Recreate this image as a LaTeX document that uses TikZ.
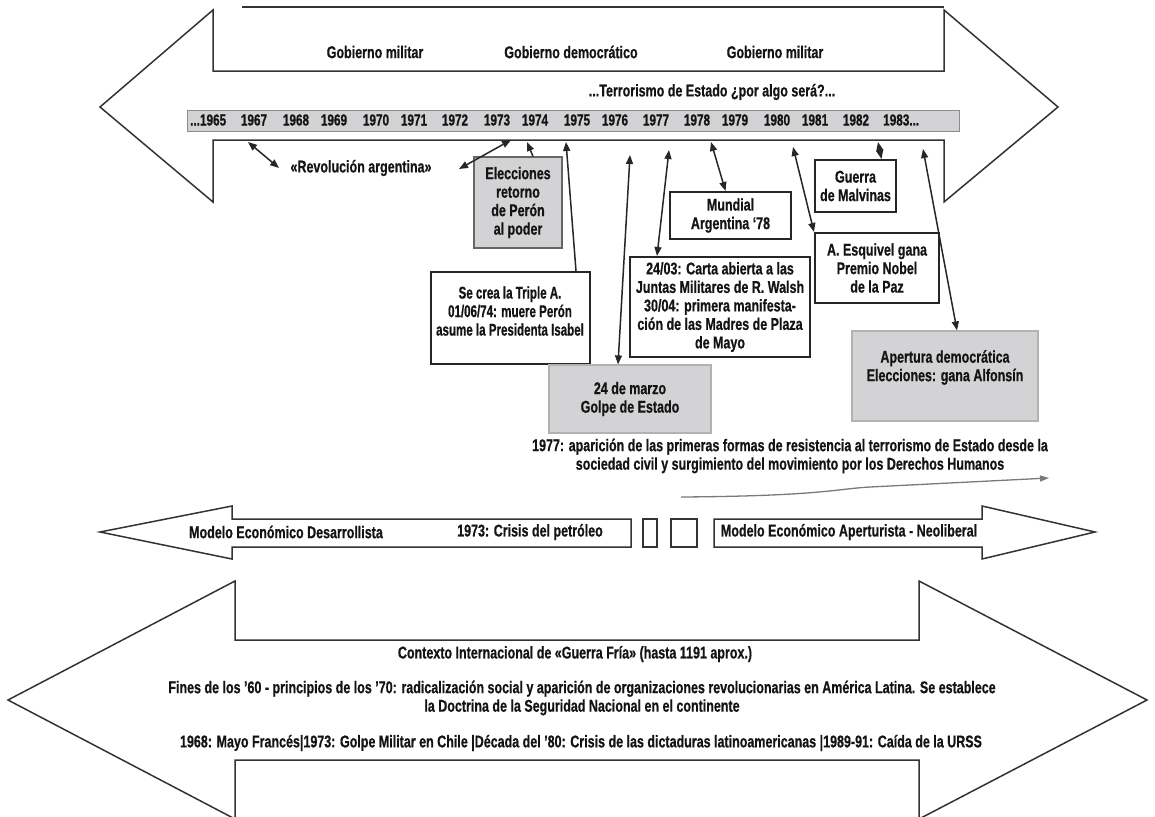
\documentclass[tikz,border=0pt]{standalone}
\usepackage{fontspec}
\setmainfont{Liberation Sans}[FakeStretch=0.735,BoldFeatures={FakeBold=0.6}]
\newfontfamily\narrowfont{Liberation Sans}[FakeStretch=0.68,BoldFeatures={FakeBold=0.6}]
\usetikzlibrary{arrows.meta}
\definecolor{boxgray}{HTML}{D3D3D5}
\definecolor{bargray}{HTML}{D2D2D4}
\definecolor{ink}{HTML}{141414}
\definecolor{curvegray}{HTML}{7A7A7A}
\begin{document}
\begin{tikzpicture}[x=1pt,y=-1pt,
  every node/.style={font=\bfseries\fontsize{17}{18.5}\selectfont, text=ink, inner sep=0pt, align=center},
  yr/.style={font=\bfseries\fontsize{16}{18}\selectfont},
  narrowtxt/.style={font=\narrowfont\bfseries\fontsize{17}{18.5}\selectfont},
  outline/.style={draw=black!80, line width=1.5pt, line join=miter},
  ebox/.style={draw=black!85, line width=2pt, fill=white},
  gbox/.style={draw=black!30, line width=1.2pt, fill=boxgray},
  conn/.style={draw=black!85, line width=1.5pt, {Triangle[length=9pt,width=7pt]}-{Triangle[length=9pt,width=7pt]}},
  conn1/.style={draw=black!85, line width=1.5pt, -{Triangle[length=9pt,width=7pt]}},
]
\useasboundingbox (0,0) rectangle (1155,816);

% ---------- top arrow ----------
\draw[outline] (100,107) -- (213,10) -- (213,71) -- (944,71) -- (944,10) -- (1058,107)
  -- (944,202) -- (944,140) -- (213,140) -- (213,202) -- cycle;
\draw[outline] (242,7) -- (944,7);

\node (gm1) at (375,52) {Gobierno militar};
\node (gd) at (571,52) {Gobierno democrático};
\node (gm2) at (775,52) {Gobierno militar};
\node (terr) at (712,92) {...Terrorismo de Estado ¿por algo será?...};

% ---------- year bar ----------
\node[draw=black!45, fill=bargray, line width=1pt, minimum width=772pt, minimum height=21pt] (bar) at (573,120.5) {};
\node[yr, anchor=west] (y65) at (190,120) {...1965};
\node[yr] (y67) at (254,120) {1967};
\node[yr] (y68) at (296,120) {1968};
\node[yr] (y69) at (334,120) {1969};
\node[yr] (y70) at (376,120) {1970};
\node[yr] (y71) at (414,120) {1971};
\node[yr] (y72) at (455,120) {1972};
\node[yr] (y73) at (497,120) {1973};
\node[yr] (y74) at (535,120) {1974};
\node[yr] (y75) at (577,120) {1975};
\node[yr] (y76) at (615,120) {1976};
\node[yr] (y77) at (656,120) {1977};
\node[yr] (y78) at (697,120) {1978};
\node[yr] (y79) at (735,120) {1979};
\node[yr] (y80) at (777,120) {1980};
\node[yr] (y81) at (815,120) {1981};
\node[yr] (y82) at (856,120) {1982};
\node[yr, anchor=west] (y83) at (883,120) {1983...};

% ---------- bar points ----------
\coordinate (p67) at (248,142);
\coordinate (p73a) at (511,140);
\coordinate (p73b) at (527,142);
\coordinate (p74) at (566,142);
\coordinate (p76) at (630,155);
\coordinate (p77) at (669,150);
\coordinate (p78) at (711,142);
\coordinate (p80) at (793,147);
\coordinate (p82) at (878,142);
\coordinate (p83) at (923,149);
\coordinate (revl) at (279,168);
\coordinate (revr) at (459,169);

\node (rev) at (361,168) {«Revolución argentina»};

% ---------- boxes ----------
\node[gbox, draw=black!60, minimum width=88pt, minimum height=91pt] (elec) at (518,202.5) {Elecciones\\retorno\\de Perón\\al poder};
\node[ebox, minimum width=159pt, minimum height=92pt] (triple) at (510.5,318) {};
\node[narrowtxt] (tripletxt) at (510,311) {Se crea la Triple A.\\01/06/74: muere Perón\\asume la Presidenta Isabel};
\node[gbox, minimum width=162pt, minimum height=68pt] (golpe) at (630,399) {24 de marzo\\Golpe de Estado};
\node[ebox, minimum width=180pt, minimum height=100pt] (carta) at (720,307) {24/03: Carta abierta a las\\Juntas Militares de R. Walsh\\30/04: primera manifesta-\\ción de las Madres de Plaza\\de Mayo};
\node[ebox, minimum width=121pt, minimum height=47pt] (mundial) at (730.5,215.5) {Mundial\\Argentina ‘78};
\node[ebox, minimum width=124pt, minimum height=70pt] (esq) at (877,268) {A. Esquivel gana\\Premio Nobel\\de la Paz};
\node[ebox, minimum width=81pt, minimum height=52pt] (guerra) at (855.5,186) {Guerra\\de Malvinas};
\node[gbox, minimum width=186pt, minimum height=90pt] (apert) at (945,376) {};
\node (aperttxt) at (945,367.5) {Apertura democrática\\Elecciones: gana Alfonsín};

% ---------- connectors ----------
\draw[conn] (p67) -- (revl);
\draw[conn] (p73a) -- (revr);
\draw[conn1] ([xshift=15pt]elec.north) -- (p73b);
\draw[conn1] ([xshift=-15pt]triple.north east) -- (p74);
\draw[conn] (p76) -- ([xshift=-12pt]golpe.north);
\draw[conn] (p77) -- ([xshift=28pt]carta.north west);
\draw[conn] (p78) -- ([xshift=-5pt]mundial.north);
\draw[conn] (p80) -- (esq.north west);
\draw[conn] (p82) -- ([xshift=26pt]guerra.north);
\draw[conn] (p83) -- ([xshift=12pt]apert.north);

% ---------- 1977 text and curve ----------
\node (res) at (790,456) {1977: aparición de las primeras formas de resistencia al terrorismo de Estado desde la\\sociedad civil y surgimiento del movimiento por los Derechos Humanos};
\coordinate (cs) at (681,497);
\coordinate (ce) at (1049,478);
\draw[curvegray, line width=1.3pt, -{Triangle[length=9pt,width=6pt]}] (cs) .. controls (820,496) and (835,489) .. (870,487) -- (ce);

% ---------- economic arrow ----------
\draw[outline] (100,532) -- (232,506) -- (232,519) -- (631,519) -- (631,547) -- (232,547) -- (232,559) -- cycle;
\draw[outline] (643,519) rectangle (657,547);
\draw[outline] (671,519) rectangle (697,547);
\draw[outline] (714,519) -- (982,519) -- (982,506) -- (1095,532) -- (982,559) -- (982,547) -- (714,547) -- cycle;
\node (des) at (286,532) {Modelo Económico Desarrollista};
\node (pet) at (530,532) {1973: Crisis del petróleo};
\node (neo) at (849,532) {Modelo Económico Aperturista - Neoliberal};

% ---------- international arrow ----------
\draw[outline] (8,700) -- (235,581) -- (235,640) -- (919,640) -- (919,581) -- (1147,700)
  -- (919,819) -- (919,760) -- (235,760) -- (235,819) -- cycle;
\node (ctx) at (575,654) {Contexto Internacional de «Guerra Fría» (hasta 1191 aprox.)};
\node (fines) at (582,698) {Fines de los ’60 - principios de los ’70: radicalización social y aparición de organizaciones revolucionarias en América Latina. Se establece\\la Doctrina de la Seguridad Nacional en el continente};
\node (hitos) at (581,743) {1968: Mayo Francés|1973: Golpe Militar en Chile |Década del ’80: Crisis de las dictaduras latinoamericanas |1989-91: Caída de la URSS};
\end{tikzpicture}
\end{document}
